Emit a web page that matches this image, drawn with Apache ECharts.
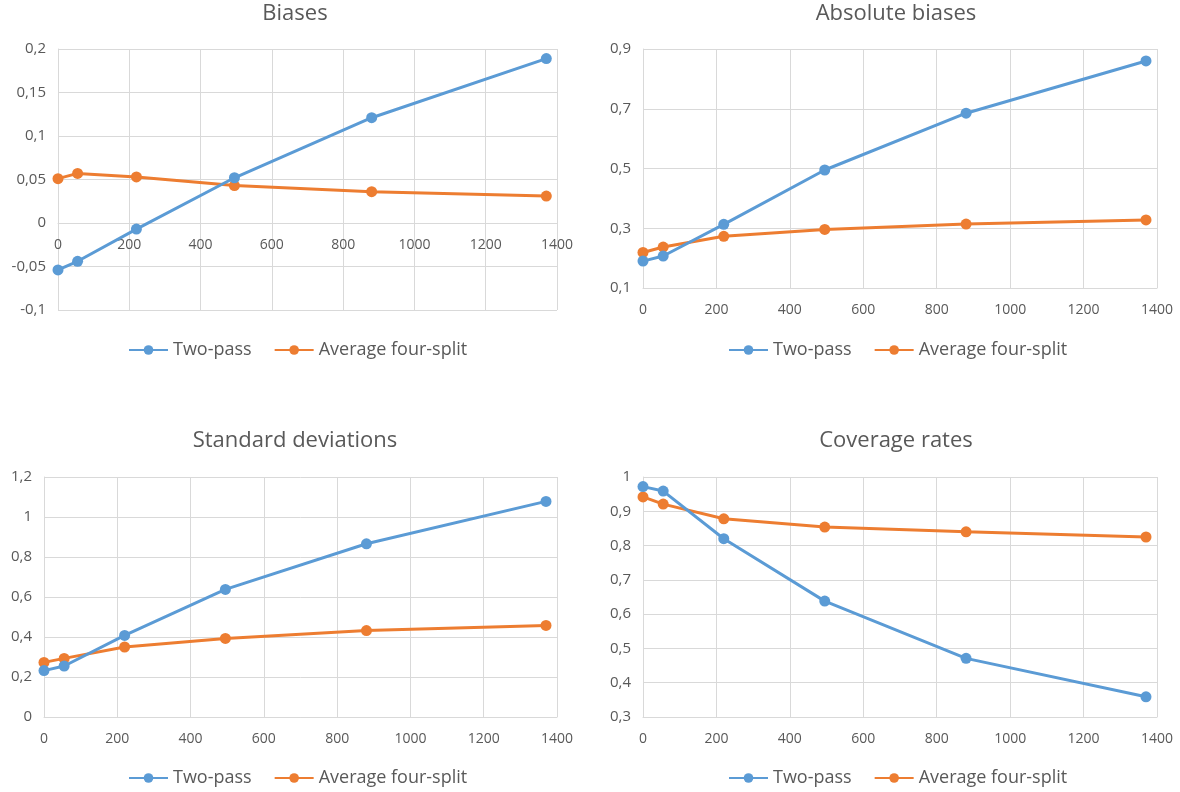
<!DOCTYPE html>
<html>
<head>
<meta charset="utf-8">
<script src="https://cdn.jsdelivr.net/npm/echarts@6/dist/echarts.min.js"></script>
<style>
  html, body { margin: 0; padding: 0; background: #ffffff; }
  #chart { width: 1180px; height: 792px; }
</style>
</head>
<body>
<div id="chart"></div>
<script>
// ---- Data ----
const xValues = [0, 55, 220, 495, 880, 1370];
const seriesNames = ['Two-pass', 'Average four-split'];
const chartTitles = ['Biases', 'Absolute biases', 'Standard deviations', 'Coverage rates'];

const biasesTwoPass = [-0.054, -0.044, -0.007, 0.052, 0.121, 0.189];
const biasesFourSplit = [0.051, 0.057, 0.053, 0.043, 0.036, 0.031];

const absBiasesTwoPass = [0.190, 0.207, 0.313, 0.495, 0.685, 0.860];
const absBiasesFourSplit = [0.219, 0.237, 0.273, 0.296, 0.314, 0.328];

const sdTwoPass = [0.232, 0.255, 0.408, 0.638, 0.866, 1.078];
const sdFourSplit = [0.273, 0.293, 0.350, 0.393, 0.432, 0.458];

const coverageTwoPass = [0.972, 0.959, 0.820, 0.638, 0.471, 0.359];
const coverageFourSplit = [0.942, 0.921, 0.878, 0.854, 0.840, 0.825];

// y-axis ranges [min, max, interval]
const yRanges = [
  [-0.1, 0.2, 0.05],
  [0.1, 0.9, 0.2],
  [0, 1.2, 0.2],
  [0.3, 1.0, 0.1]
];
const xRange = [0, 1400, 200];

// ---- Layout / style ----
const grids = [
  { left: 58, top: 49, width: 499, height: 261 },
  { left: 643, top: 49, width: 514, height: 239 },
  { left: 44, top: 477, width: 513, height: 240 },
  { left: 643, top: 477, width: 514, height: 240 }
];
const titlePos = [
  { left: 295, top: 3 },
  { left: 896, top: 3 },
  { left: 295, top: 430 },
  { left: 896, top: 430 }
];
const legendPos = [
  { left: 128, top: 341 },
  { left: 728, top: 341 },
  { left: 128, top: 769 },
  { left: 728, top: 769 }
];
const colors = ['#5B9BD5', '#ED7D31'];
const textColor = '#595959';
const gridColor = '#D9D9D9';
const font = 'Open Sans';

const dataSets = [
  [biasesTwoPass, biasesFourSplit],
  [absBiasesTwoPass, absBiasesFourSplit],
  [sdTwoPass, sdFourSplit],
  [coverageTwoPass, coverageFourSplit]
];

function fmt(v) {
  const r = Math.round(v * 1000) / 1000;
  return String(r).replace('.', ',');
}

// x axis sits on y = 0 when the y range crosses zero
function zeroOffset(i) {
  const [mn, mx] = yRanges[i];
  if (mn < 0 && mx > 0) {
    return -grids[i].height * (0 - mn) / (mx - mn);
  }
  return 0;
}

const option = {
  animation: false,
  backgroundColor: '#ffffff',
  color: colors,
  title: chartTitles.map((t, i) => ({
    text: t,
    left: titlePos[i].left,
    top: titlePos[i].top,
    textAlign: 'center',
    padding: 0,
    textStyle: { fontFamily: font, fontSize: 22, fontWeight: 'normal', color: textColor }
  })),
  legend: legendPos.map((p, i) => ({
    left: p.left,
    top: p.top,
    orient: 'horizontal',
    itemWidth: 39,
    itemHeight: 12,
    itemGap: 22,
    padding: 0,
    data: seriesNames.map(n => n + '\u200b'.repeat(i)),
    formatter: function (name) { return name.replace(/\u200b/g, ''); },
    textStyle: { fontFamily: font, fontSize: 18, color: textColor }
  })),
  grid: grids.map(g => Object.assign({ containLabel: false }, g)),
  xAxis: grids.map((g, i) => ({
    type: 'value',
    gridIndex: i,
    min: xRange[0],
    max: xRange[1],
    interval: xRange[2],
    offset: zeroOffset(i),
    axisLine: { show: true, onZero: false, lineStyle: { color: gridColor, width: 1 } },
    axisTick: { show: false },
    axisLabel: { fontFamily: font, fontSize: 14, color: textColor, margin: 15, formatter: v => String(v) },
    splitLine: { show: true, lineStyle: { color: gridColor, width: 1 } }
  })),
  yAxis: grids.map((g, i) => ({
    type: 'value',
    gridIndex: i,
    min: yRanges[i][0],
    max: yRanges[i][1],
    interval: yRanges[i][2],
    axisLine: { show: true, onZero: false, lineStyle: { color: gridColor, width: 1 } },
    axisTick: { show: false },
    axisLabel: { fontFamily: font, fontSize: 15, color: textColor, margin: 12, formatter: fmt },
    splitLine: { show: true, lineStyle: { color: gridColor, width: 1 } }
  })),
  series: []
};

dataSets.forEach((pair, i) => {
  pair.forEach((vals, s) => {
    option.series.push({
      type: 'line',
      name: seriesNames[s] + '\u200b'.repeat(i),
      xAxisIndex: i,
      yAxisIndex: i,
      data: xValues.map((x, k) => [x, vals[k]]),
      symbol: 'circle',
      symbolSize: 11,
      showSymbol: true,
      lineStyle: { width: 3, color: colors[s] },
      itemStyle: { color: colors[s] },
      z: 2 + (1 - s)
    });
  });
});

const chart = echarts.init(document.getElementById('chart'), null, { renderer: 'canvas' });
chart.setOption(option);
</script>
</body>
</html>
